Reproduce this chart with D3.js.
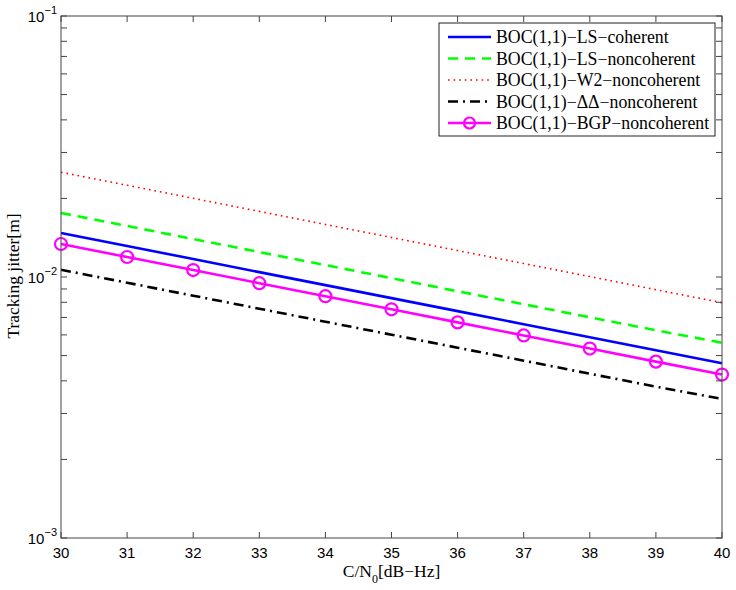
<!DOCTYPE html>
<html>
<head>
<meta charset="utf-8">
<script src="https://cdn.jsdelivr.net/npm/d3@7"></script>
<style>
  body { margin: 0; background: #fff; }
  svg { display: block; }
</style>
</head>
<body>
<svg id="chart"></svg>
<script>
// data
const cn0 = [30, 31, 32, 33, 34, 35, 36, 37, 38, 39, 40];
const lsCoherent = [0.01475, 0.01315, 0.01172, 0.01044, 0.00931, 0.00830, 0.00740, 0.00659, 0.00588, 0.00524, 0.00467];
const lsNoncoherent = [0.0176, 0.01569, 0.01398, 0.01246, 0.01111, 0.00990, 0.00882, 0.00786, 0.00701, 0.00625, 0.00560];
const w2Noncoherent = [0.0252, 0.02246, 0.02002, 0.01784, 0.01590, 0.01417, 0.01263, 0.01126, 0.01004, 0.00894, 0.00797];
const ddNoncoherent = [0.01066, 0.00951, 0.00848, 0.00756, 0.00674, 0.00601, 0.00536, 0.00478, 0.00426, 0.00380, 0.00341];
const bgpNoncoherent = [0.01338, 0.01193, 0.01063, 0.00947, 0.00844, 0.00752, 0.00670, 0.00597, 0.00532, 0.00474, 0.00423];
const seriesNames = [
  'BOC(1,1)\u2212LS\u2212coherent',
  'BOC(1,1)\u2212LS\u2212noncoherent',
  'BOC(1,1)\u2212W2\u2212noncoherent',
  'BOC(1,1)\u2212\u0394\u0394\u2212noncoherent',
  'BOC(1,1)\u2212BGP\u2212noncoherent'
];
const yTickExps = [-3, -2, -1];

const W = 736, H = 590;
const m = { left: 61, right: 14, top: 16, bottom: 52 };
const iw = W - m.left - m.right, ih = H - m.top - m.bottom;

const svg = d3.select('#chart').attr('width', W).attr('height', H);
const g = svg.append('g').attr('transform', `translate(${m.left},${m.top})`);

const x = d3.scaleLinear().domain([30, 40]).range([0, iw]);
const y = d3.scaleLog().domain([1e-3, 1e-1]).range([ih, 0]);

const styles = [
  { data: lsCoherent, color: '#0000ff', width: 2.6, dash: null },
  { data: lsNoncoherent, color: '#00ff00', width: 2.6, dash: '10,7' },
  { data: w2Noncoherent, color: '#ff0000', width: 1.6, dash: '1.6,4' },
  { data: ddNoncoherent, color: '#000000', width: 2.6, dash: '10,5,2,5' },
  { data: bgpNoncoherent, color: '#ff00ff', width: 2.6, dash: null, marker: true }
];

const line = d3.line().x((d, i) => x(cn0[i])).y(d => y(d));

styles.forEach(s => {
  g.append('path')
    .datum(s.data)
    .attr('d', line)
    .attr('fill', 'none')
    .attr('stroke', s.color)
    .attr('stroke-width', s.width)
    .attr('stroke-dasharray', s.dash);
  if (s.marker) {
    g.selectAll(null)
      .data(s.data)
      .join('circle')
      .attr('cx', (d, i) => x(cn0[i]))
      .attr('cy', d => y(d))
      .attr('r', 6)
      .attr('fill', 'none')
      .attr('stroke', s.color)
      .attr('stroke-width', 2.2);
  }
});

// axes box, MATLAB style inward ticks on all sides
const axisColor = '#444';
const tickLen = 6;
g.append('rect')
  .attr('width', iw).attr('height', ih)
  .attr('fill', 'none').attr('stroke', axisColor).attr('stroke-width', 1);

const xTicks = cn0;
xTicks.forEach(t => {
  const px = x(t);
  g.append('line').attr('x1', px).attr('x2', px).attr('y1', ih).attr('y2', ih - tickLen)
    .attr('stroke', axisColor);
  g.append('line').attr('x1', px).attr('x2', px).attr('y1', 0).attr('y2', tickLen)
    .attr('stroke', axisColor);
  g.append('text')
    .attr('x', px).attr('y', ih + 20)
    .attr('text-anchor', 'middle')
    .attr('font-family', 'Liberation Sans, Arial, sans-serif')
    .attr('font-size', 15)
    .text(t);
});

const yTicksAll = [];
for (let e = -3; e < -1; e++) {
  for (let k = 1; k <= 9; k++) yTicksAll.push(k * Math.pow(10, e));
}
yTicksAll.push(1e-1);
yTicksAll.forEach(t => {
  const py = y(t);
  g.append('line').attr('x1', 0).attr('x2', tickLen).attr('y1', py).attr('y2', py)
    .attr('stroke', axisColor);
  g.append('line').attr('x1', iw).attr('x2', iw - tickLen).attr('y1', py).attr('y2', py)
    .attr('stroke', axisColor);
});

yTickExps.forEach(e => {
  const t = g.append('text')
    .attr('x', -4).attr('y', y(Math.pow(10, e)) + 6)
    .attr('text-anchor', 'end')
    .attr('font-family', 'Liberation Sans, Arial, sans-serif')
    .attr('font-size', 15);
  t.append('tspan').text('10');
  t.append('tspan').attr('dy', -8).attr('font-size', 11).text(String(e).replace('-', '\u2212'));
});

// axis labels
const xl = svg.append('text')
  .attr('x', m.left + iw / 2).attr('y', 577)
  .attr('text-anchor', 'middle')
  .attr('font-family', 'Liberation Serif, Times New Roman, serif')
  .attr('font-size', 17.5);
xl.append('tspan').text('C/N');
xl.append('tspan').attr('dy', 6).attr('font-size', 12).text('0');
xl.append('tspan').attr('dy', -6).text('[dB\u2212Hz]');

svg.append('text')
  .attr('transform', `translate(19,${m.top + ih / 2 - 1}) rotate(-90)`)
  .attr('text-anchor', 'middle')
  .attr('font-family', 'Liberation Serif, Times New Roman, serif')
  .attr('font-size', 17.5)
  .text('Tracking jitter[m]');

// legend
const lg = svg.append('g').attr('transform', 'translate(439,23)');
lg.append('rect')
  .attr('width', 276).attr('height', 113)
  .attr('fill', '#fff').attr('stroke', '#222').attr('stroke-width', 1);
styles.forEach((s, i) => {
  const ly = 14 + i * 21.5;
  lg.append('line')
    .attr('x1', 9).attr('x2', 52).attr('y1', ly).attr('y2', ly)
    .attr('stroke', s.color).attr('stroke-width', s.width)
    .attr('stroke-dasharray', s.dash);
  if (s.marker) {
    lg.append('circle').attr('cx', 30.5).attr('cy', ly).attr('r', 5.5)
      .attr('fill', 'none').attr('stroke', s.color).attr('stroke-width', 2.2);
  }
  lg.append('text')
    .attr('x', 57).attr('y', ly + 6)
    .attr('font-family', 'Liberation Serif, Times New Roman, serif')
    .attr('font-size', 17.8)
    .text(seriesNames[i]);
});
</script>
</body>
</html>
